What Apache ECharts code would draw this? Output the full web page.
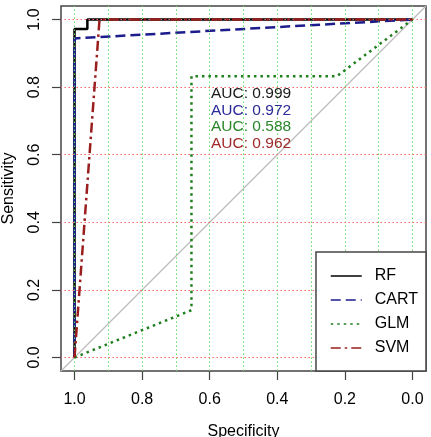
<!DOCTYPE html>
<html>
<head>
<meta charset="utf-8">
<script src="https://cdn.jsdelivr.net/npm/echarts@6/dist/echarts.min.js"></script>
<style>html,body{margin:0;padding:0;background:#fff}#c{width:431px;height:437px}</style>
</head>
<body>
<div id="c"></div>
<script>
// ---- data ----
const seriesNames = ['RF', 'CART', 'GLM', 'SVM'];
// points: [specificity, sensitivity]
const rfPoints   = [[1, 0], [1, 0.972], [0.962, 0.972], [0.962, 1], [0, 1]];
const cartPoints = [[1, 0], [1, 0.944], [0, 1]];
const glmPoints  = [[1, 0], [0.654, 0.14], [0.654, 0.832], [0.224, 0.832], [0, 1]];
const svmPoints  = [[1, 0], [0.926, 1], [0, 1]];
const aucValues  = ['0.999', '0.972', '0.588', '0.962'];
const diagLine   = [[1.04, -0.04], [-0.04, 1.04]];
const tickInterval = 0.2;
const xGridValues = [0, 0.1, 0.2, 0.3, 0.4, 0.5, 0.6, 0.7, 0.8, 0.9, 1.0];
const yGridValues = [0, 0.2, 0.4, 0.6, 0.8, 1.0];

const colors = ['#000000', '#1c1c8c', '#1f7f1f', '#9a1e1e'];
const textColors = ['#1a1a1a', '#2a2a9a', '#2a862a', '#a02a2a'];
const dashes = ['solid', [10, 5], [2.5, 4], [10, 4, 2.5, 4]];
const font = 'Liberation Sans, Arial, sans-serif';

const chart = echarts.init(document.getElementById('c'), null, {renderer: 'canvas'});

const curveData = [rfPoints, cartPoints, glmPoints, svmPoints];

const series = [
  {
    type: 'line', data: [], silent: true, z: 1,
    markLine: {
      silent: true, symbol: ['none', 'none'], label: {show: false}, animation: false,
      lineStyle: {color: '#66dd66', width: 1, type: [1.5, 2.5]},
      data: xGridValues.map(v => ({xAxis: v}))
    }
  },
  {
    type: 'line', data: [], silent: true, z: 1,
    markLine: {
      silent: true, symbol: ['none', 'none'], label: {show: false}, animation: false,
      lineStyle: {color: '#ff6666', width: 1, type: [1.5, 2.5]},
      data: yGridValues.map(v => ({yAxis: v}))
    }
  },
  {
    type: 'line', data: diagLine, silent: true, z: 2, symbol: 'none',
    lineStyle: {color: '#bdbdbd', width: 1.3}
  }
];
seriesNames.forEach((n, i) => {
  series.push({
    name: n, type: 'line', data: curveData[i], symbol: 'none', showSymbol: false, z: 3 + i,
    color: colors[i],
    lineStyle: {color: colors[i], width: 2.5, type: dashes[i]}
  });
});

// the plot box spans -0.04..1.04 (R's 4% extension); ticks/labels live on
// helper grids that span exactly 0..1
const W = 431, H = 437;
const boxL = 61, boxT = 6, boxR = 5, boxB = 66;
const boxW = W - boxL - boxR, boxH = H - boxT - boxB;
const padX = boxW * 0.04 / 1.08, padY = boxH * 0.04 / 1.08;

const hidden = {show: false};
const option = {
  animation: false,
  backgroundColor: '#ffffff',
  grid: [
    {left: boxL, top: boxT, right: boxR, bottom: boxB, containLabel: false, outerBoundsMode: 'none',
     show: true, borderColor: '#444', borderWidth: 1.5, backgroundColor: 'transparent'},
    {left: boxL + padX, right: boxR + padX, top: boxT, bottom: boxB, containLabel: false, outerBoundsMode: 'none'},
    {left: boxL, right: boxR, top: boxT + padY, bottom: boxB + padY, containLabel: false, outerBoundsMode: 'none'}
  ],
  xAxis: [
    {gridIndex: 0, type: 'value', inverse: true, min: -0.04, max: 1.04,
     axisLine: hidden, axisTick: hidden, axisLabel: hidden, splitLine: hidden},
    {gridIndex: 1, type: 'value', inverse: true, min: 0, max: 1, interval: tickInterval,
     name: 'Specificity', nameLocation: 'middle', nameGap: 53,
     nameTextStyle: {fontFamily: font, fontSize: 16, color: '#000'},
     axisLine: hidden,
     axisTick: {show: true, length: 9, inside: false, lineStyle: {color: '#444', width: 1.2}},
     axisLabel: {formatter: v => v.toFixed(1), fontFamily: font, fontSize: 16, color: '#000', margin: 21},
     splitLine: hidden},
    {gridIndex: 2, type: 'value', min: 0, max: 1, show: false}
  ],
  yAxis: [
    {gridIndex: 0, type: 'value', min: -0.04, max: 1.04,
     axisLine: hidden, axisTick: hidden, axisLabel: hidden, splitLine: hidden},
    {gridIndex: 1, type: 'value', min: 0, max: 1, show: false},
    {gridIndex: 2, type: 'value', min: 0, max: 1, interval: tickInterval,
     name: 'Sensitivity', nameLocation: 'middle', nameGap: 44, nameRotate: 90,
     nameTextStyle: {fontFamily: font, fontSize: 16, color: '#000'},
     axisLine: hidden,
     axisTick: {show: true, length: 9, inside: false, lineStyle: {color: '#444', width: 1.2}},
     axisLabel: {formatter: v => v.toFixed(1), rotate: 90, fontFamily: font, fontSize: 16, color: '#000', margin: 18},
     splitLine: hidden}
  ],
  legend: {
    data: seriesNames, orient: 'vertical', right: 5, bottom: 66,
    backgroundColor: '#fff', borderColor: '#444', borderWidth: 1.5,
    padding: [16, 8, 15, 14], itemWidth: 31, itemHeight: 14, itemGap: 8,
    textStyle: {fontFamily: font, fontSize: 16, color: '#000', padding: [0, 0, 0, 8]},
    lineStyle: {width: 1.5},
    itemStyle: {opacity: 0},
    z: 10
  },
  graphic: aucValues.map((v, i) => ({
    type: 'text', left: 211, top: 86 + i * 16.5, z: 20,
    style: {text: 'AUC: ' + v, fill: textColors[i], font: '15.5px ' + font}
  })),
  series: series
};
chart.setOption(option);
</script>
</body>
</html>
